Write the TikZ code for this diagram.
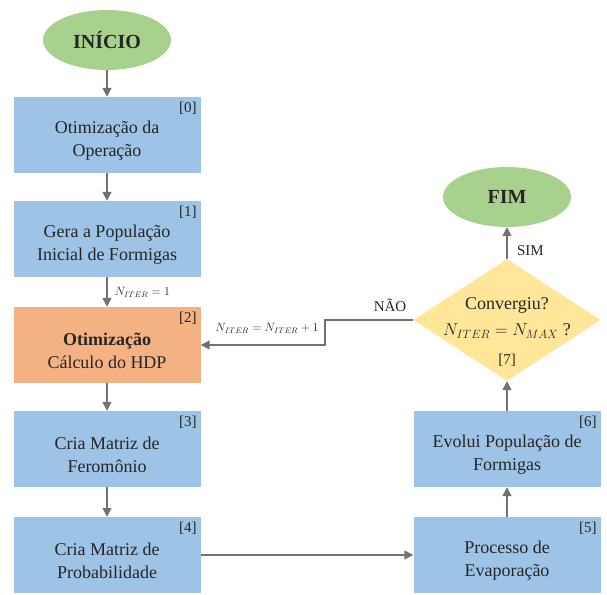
\documentclass[tikz,border=0pt]{standalone}
\usepackage{amsmath}
\usepackage{fontspec}
\setmainfont{Liberation Serif}
\usetikzlibrary{shapes.geometric, arrows.meta, positioning}

\definecolor{azulcaixa}{HTML}{9DC3E6}
\definecolor{laranja}{HTML}{F4B183}
\definecolor{verde}{HTML}{A9D18E}
\definecolor{amarelo}{HTML}{FFE699}
\definecolor{cinzaseta}{HTML}{767171}
\definecolor{cinzatexto}{HTML}{262626}

\tikzset{
  etapa/.style={fill=azulcaixa, minimum width=187pt, minimum height=76pt, inner sep=0pt,
    align=center, text=cinzatexto, font=\fontsize{18}{23}\selectfont},
  terminal/.style={ellipse, fill=verde, minimum width=128pt, minimum height=60pt, inner sep=0pt,
    text=cinzatexto, font=\fontsize{20}{24}\selectfont\bfseries},
  decisao/.style={diamond, fill=amarelo, minimum width=187pt, minimum height=122pt, inner sep=0pt, aspect=1.53},
  numero/.style={anchor=north east, text=cinzatexto, font=\fontsize{15}{18}\selectfont, inner sep=0pt},
  rotulo/.style={text=cinzatexto, font=\fontsize{12}{14}\selectfont, inner sep=1pt},
  seta/.style={draw=cinzaseta, line width=1.5pt, -{Triangle[width=9pt,length=9pt]}},
}

\begin{document}
\begin{tikzpicture}[x=1pt, y=-1pt]
\useasboundingbox (0,0) rectangle (607,594);

% coluna da esquerda
\node[terminal] (inicio) at (107,40) {INÍCIO};
\node[etapa] (otimop) at (107,135) {\rule{0pt}{24pt}Otimização da\\Operação};
\node[etapa] (gera) at (107,239) {\rule{0pt}{24pt}Gera a População\\Inicial de Formigas};
\node[etapa, fill=laranja] (otim) at (107,345) {\rule{0pt}{24pt}\textbf{Otimização}\\Cálculo do HDP};
\node[etapa] (ferom) at (107,449) {\rule{0pt}{24pt}Cria Matriz de\\Feromônio};
\node[etapa] (prob) at (107,555) {\rule{0pt}{24pt}Cria Matriz de\\Probabilidade};

% coluna da direita
\node[etapa] (evap) at (507,555) {\rule{0pt}{24pt}Processo de\\Evaporação};
\node[etapa] (evol) at (507,449) {\rule{0pt}{24pt}Evolui População de\\Formigas};
\node[decisao] (conv) at (507,320) {};
\node[terminal] (fim) at (507,197) {FIM};
\node[align=center, text=cinzatexto, font=\fontsize{18}{23}\selectfont] (convtxt) at (507,318)
  {Convergiu?\\[3pt]{\fontsize{18}{22}\selectfont$N_{ITER}=N_{MAX}$ ?}};
\node[numero, anchor=center] (n7) at (507,360) {[7]};

% numeros das etapas
\node[numero] (n0) at ([xshift=-4pt, yshift=-5pt]otimop.north east) {[0]};
\node[numero] (n1) at ([xshift=-4pt, yshift=-5pt]gera.north east) {[1]};
\node[numero] (n2) at ([xshift=-4pt, yshift=-5pt]otim.north east) {[2]};
\node[numero] (n3) at ([xshift=-4pt, yshift=-5pt]ferom.north east) {[3]};
\node[numero] (n4) at ([xshift=-4pt, yshift=-5pt]prob.north east) {[4]};
\node[numero] (n5) at ([xshift=-4pt, yshift=-5pt]evap.north east) {[5]};
\node[numero] (n6) at ([xshift=-4pt, yshift=-5pt]evol.north east) {[6]};

% setas
\draw[seta] (inicio) -- (otimop);
\draw[seta] (otimop) -- (gera);
\draw[seta] (gera) -- (otim) node[midway, right=6pt, rotulo] {$N_{ITER}=1$};
\draw[seta] (otim) -- (ferom);
\draw[seta] (ferom) -- (prob);
\draw[seta] (prob) -- (evap);
\draw[seta] (evap) -- (evol);
\draw[seta] (evol) -- (conv);
\draw[seta] (conv) -- (fim) node[pos=0.25, right=6pt, text=cinzatexto, font=\fontsize{15}{18}\selectfont] {SIM};
\coordinate (dobra) at (325,320);
\draw[seta] (conv.west) -- (dobra) |- (otim.east);
\node[text=cinzatexto, font=\fontsize{15}{18}\selectfont] (nao) at (390,305) {NÃO};
\node[rotulo] (incr) at (267,328) {$N_{ITER}=N_{ITER}+1$};
\end{tikzpicture}
\end{document}
